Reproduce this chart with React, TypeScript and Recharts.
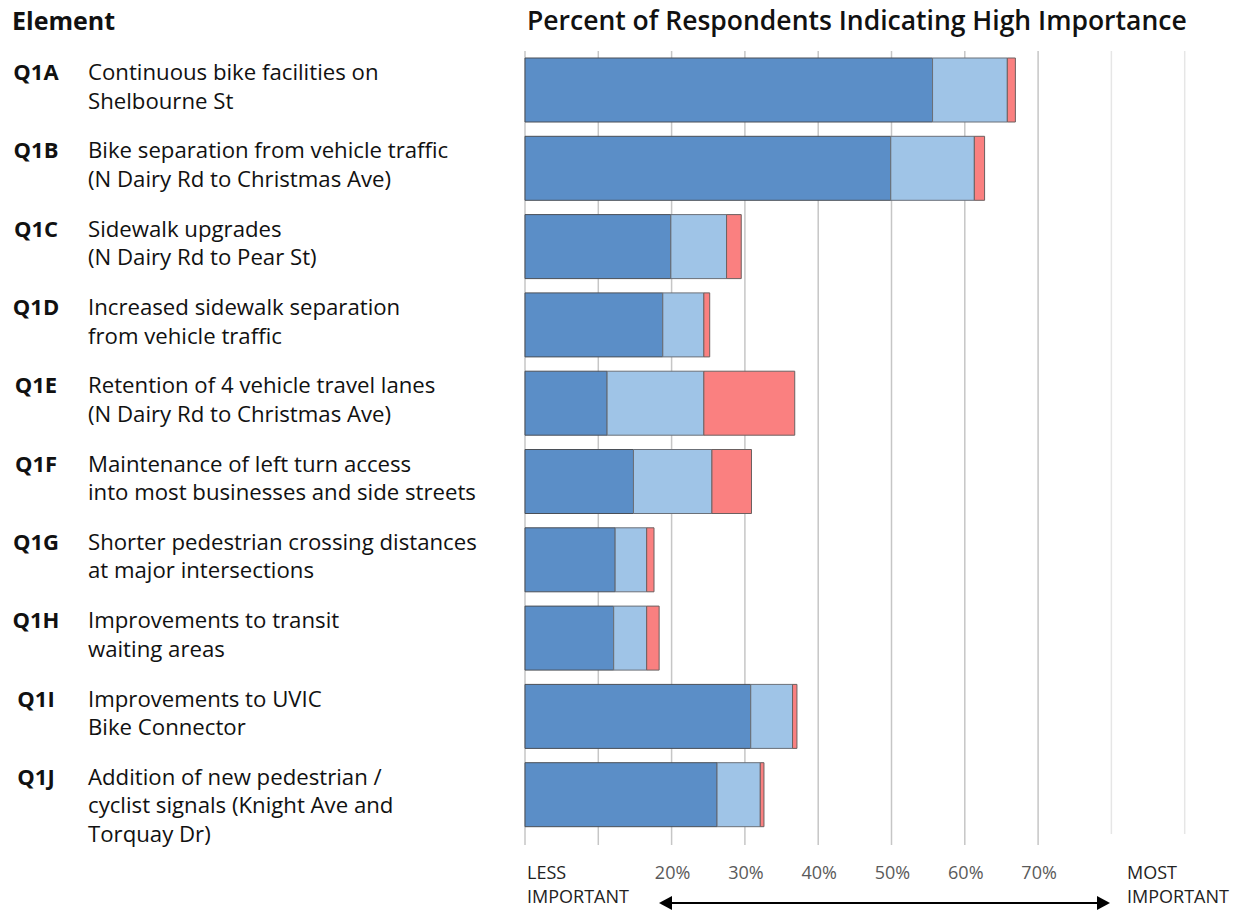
import React from 'react';
import { BarChart, Bar, XAxis, YAxis, CartesianGrid } from 'recharts';

const codes = ['Q1A', 'Q1B', 'Q1C', 'Q1D', 'Q1E', 'Q1F', 'Q1G', 'Q1H', 'Q1I', 'Q1J'];
const descriptions: string[][] = [
  ['Continuous bike facilities on', 'Shelbourne St'],
  ['Bike separation from vehicle traffic', '(N Dairy Rd to Christmas Ave)'],
  ['Sidewalk upgrades', '(N Dairy Rd to Pear St)'],
  ['Increased sidewalk separation', 'from vehicle traffic'],
  ['Retention of 4 vehicle travel lanes', '(N Dairy Rd to Christmas Ave)'],
  ['Maintenance of left turn access', 'into most businesses and side streets'],
  ['Shorter pedestrian crossing distances', 'at major intersections'],
  ['Improvements to transit', 'waiting areas'],
  ['Improvements to UVIC', 'Bike Connector'],
  ['Addition of new pedestrian /', 'cyclist signals (Knight Ave and', 'Torquay Dr)'],
];
const darkValues = [55.6, 49.9, 19.9, 18.8, 11.2, 14.8, 12.3, 12.1, 30.8, 26.2];
const lightValues = [10.2, 11.4, 7.6, 5.6, 13.2, 10.7, 4.3, 4.5, 5.7, 5.9];
const redValues = [1.1, 1.4, 2.0, 0.8, 12.4, 5.4, 1.0, 1.7, 0.6, 0.5];
const gridTicks = [0, 10, 20, 30, 40, 50, 60, 70, 80, 90, 100];
const labeledTicks = [20, 30, 40, 50, 60, 70];
const leftLabel = ['LESS', 'IMPORTANT'];
const rightLabel = ['MOST', 'IMPORTANT'];
const elementHeader = 'Element';
const chartTitle = 'Percent of Respondents Indicating High Importance';

const data = codes.map((code, i) => ({
  code,
  dark: darkValues[i],
  light: lightValues[i],
  red: redValues[i],
}));

const FONT = '"Open Sans", sans-serif';

const YTick = (props: any) => {
  const { y, payload } = props;
  const idx = codes.indexOf(payload.value);
  const lines = descriptions[idx] || [];
  return (
    <g>
      <text x={36} y={y - 10} textAnchor="middle" fontFamily={FONT} fontWeight={700} fontSize={22} fill="#111">
        {payload.value}
      </text>
      {lines.map((l, k) => (
        <text key={k} x={88} y={y - 10 + k * 28.5} fontFamily={FONT} fontSize={22.2} fill="#111">
          {l}
        </text>
      ))}
    </g>
  );
};

const XTick = (props: any) => {
  const { x, y, payload } = props;
  const v = payload.value;
  const el: any[] = [];
  if (v <= 70) {
    el.push(<line key="t" x1={x} x2={x} y1={y} y2={y + 11} stroke="#c6c6c6" strokeWidth={1.5} />);
  }
  if (labeledTicks.includes(v)) {
    el.push(
      <text key="l" x={x + 1} y={y + 45} textAnchor="middle" fontFamily={FONT} fontSize={18} fill="#5a5a5a">
        {`${v}%`}
      </text>
    );
  }
  if (v === 0) {
    leftLabel.forEach((s, k) =>
      el.push(
        <text key={'a' + k} x={x + 2} y={y + 45 + k * 24} fontFamily={FONT} fontSize={18} fill="#222">
          {s}
        </text>
      )
    );
  }
  return <g>{el}</g>;
};

const GridLine = (p: any) => {
  const light = p.index !== undefined ? p.index >= 8 : false;
  return (
    <line
      key={p.key}
      x1={p.x1}
      x2={p.x2}
      y1={p.y1}
      y2={p.y2}
      stroke={light ? '#e6e6e6' : '#c6c6c6'}
      strokeWidth={1.5}
    />
  );
};

export default function App() {
  return (
    <div style={{ position: 'absolute', left: 0, top: 0, width: 1256, height: 911, overflow: 'hidden', background: '#fff' }}>
      <svg width={1256} height={60} style={{ position: 'absolute', left: 0, top: 0 }}>
        <text x={12} y={30} fontFamily={FONT} fontWeight={700} fontSize={25} fill="#111">
          {elementHeader}
        </text>
        <text x={527} y={30} fontFamily={FONT} fontWeight={600} fontSize={26.5} fill="#111">
          {chartTitle}
        </text>
      </svg>
      <div style={{ position: 'absolute', left: 0, top: 0 }}>
        <BarChart
          width={1258}
          height={911}
          data={data}
          layout="vertical"
          margin={{ top: 51, right: 0, bottom: 0, left: 0 }}
          barSize={64}
        >
          <CartesianGrid horizontal={false} vertical={GridLine} />
          <XAxis
            type="number"
            domain={[0, 100]}
            ticks={gridTicks}
            axisLine={false}
            tickLine={false}
            tickSize={0}
            tickMargin={0}
            height={77}
            interval={0}
            tick={XTick}
          />
          <YAxis
            type="category"
            dataKey="code"
            width={525}
            axisLine={false}
            tickLine={false}
            tick={YTick}
            interval={0}
          />
          <Bar dataKey="dark" stackId="s" fill="#5b8ec7" stroke="#4a4f57" strokeWidth={1} isAnimationActive={false} />
          <Bar dataKey="light" stackId="s" fill="#9fc4e7" stroke="#6b7078" strokeWidth={1} isAnimationActive={false} />
          <Bar dataKey="red" stackId="s" fill="#fa8080" stroke="#6b6060" strokeWidth={1} isAnimationActive={false} />
        </BarChart>
      </div>
      <svg width={1256} height={911} style={{ position: 'absolute', left: 0, top: 0, pointerEvents: 'none' }}>
        {rightLabel.map((s, k) => (
          <text key={k} x={1127} y={879 + k * 24} fontFamily={FONT} fontSize={18} fill="#222">
            {s}
          </text>
        ))}
        <line x1={670} x2={1099} y1={903} y2={903} stroke="#000" strokeWidth={2} />
        <polygon points="659,903 672,896 672,910" fill="#000" />
        <polygon points="1110,903 1097,896 1097,910" fill="#000" />
      </svg>
    </div>
  );
}
